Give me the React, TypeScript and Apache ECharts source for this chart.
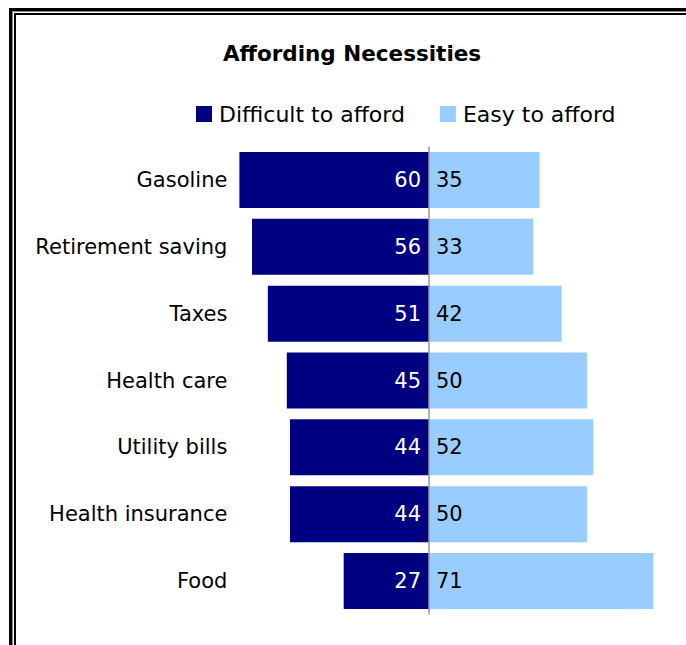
import React, { useEffect, useRef } from "react";
import * as echarts from "echarts";

const categories = ["Gasoline", "Retirement saving", "Taxes", "Health care", "Utility bills", "Health insurance", "Food"];
const difficult = [60, 56, 51, 45, 44, 44, 27];
const easy = [35, 33, 42, 50, 52, 50, 71];
const seriesNames = ["Difficult to afford", "Easy to afford"];
const titleText = "Affording Necessities";

const FONT = "DejaVu Sans";

export default function App() {
  const ref = useRef<HTMLDivElement>(null);
  useEffect(() => {
    if (!ref.current) return;
    const chart = echarts.init(ref.current, null, { renderer: "svg" });
    const cats = [...categories].reverse();
    const diff = [...difficult].reverse().map((v) => -v);
    const eas = [...easy].reverse();
    chart.setOption({
      animation: false,
      backgroundColor: "#ffffff",
      title: {
        text: titleText,
        left: 347,
        top: 37,
        textAlign: "center",
        textStyle: { fontFamily: FONT, fontSize: 21.5, fontWeight: "bold", color: "#000" },
      },
      legend: {
        left: 191,
        top: 98,
        itemWidth: 16,
        itemHeight: 16,
        itemGap: 35,
        icon: "rect",
        textStyle: { fontFamily: FONT, fontSize: 22, color: "#000", padding: [0, 0, 0, 2] },
        data: seriesNames,
      },
      grid: { left: 239.4, right: 20, top: 146.6, bottom: 30.6, containLabel: false },
      xAxis: {
        type: "value",
        min: -60,
        max: 75,
        show: false,
      },
      yAxis: {
        type: "category",
        data: cats,
        axisLine: { show: false },
        axisTick: { show: false },
        splitLine: { show: false },
        axisLabel: { fontFamily: FONT, fontSize: 21, color: "#000", margin: 12 },
      },
      series: [
        {
          name: seriesNames[0],
          type: "bar",
          stack: "total",
          data: diff,
          barWidth: 56,
          itemStyle: { color: "#000080" },
          label: {
            show: true,
            position: "insideRight",
            distance: 8,
            color: "#fff",
            fontFamily: FONT,
            fontSize: 21,
            formatter: (p: any) => String(Math.abs(p.value)),
          },
          markLine: {
            silent: true,
            symbol: "none",
            label: { show: false },
            lineStyle: { color: "#999999", width: 1.5, type: "solid" },
            data: [{ xAxis: 0 }],
          },
          z: 2,
        },
        {
          name: seriesNames[1],
          type: "bar",
          stack: "total",
          data: eas,
          barWidth: 56,
          itemStyle: { color: "#99CCFF" },
          label: {
            show: true,
            position: "insideLeft",
            distance: 7,
            color: "#000",
            fontFamily: FONT,
            fontSize: 21,
          },
          z: 2,
        },
      ],
      graphic: [
        { type: "rect", shape: { x: 9, y: 8, width: 3, height: 640 }, style: { fill: "#000" } },
        { type: "rect", shape: { x: 9, y: 8, width: 680, height: 3 }, style: { fill: "#000" } },
        { type: "rect", shape: { x: 12, y: 11, width: 1, height: 640 }, style: { fill: "#888" } },
        { type: "rect", shape: { x: 12, y: 11, width: 680, height: 1 }, style: { fill: "#888" } },
        { type: "rect", shape: { x: 14, y: 13, width: 2, height: 640 }, style: { fill: "#000" } },
        { type: "rect", shape: { x: 14, y: 13, width: 680, height: 2 }, style: { fill: "#000" } },
      ],
    });
    return () => chart.dispose();
  }, []);
  return <div ref={ref} style={{ position: "fixed", left: 0, top: 0, width: 686, height: 645 }} />;
}
